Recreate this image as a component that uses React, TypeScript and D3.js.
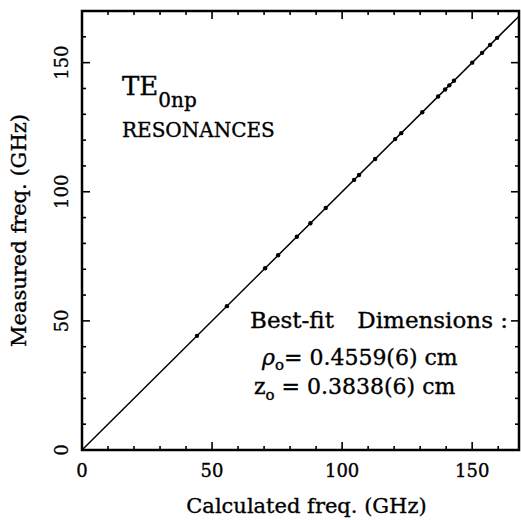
import React from "react";
import * as d3 from "d3";

const calculated = [44.2, 55.7, 70.4, 75.4, 82.6, 87.8, 93.7, 104.6, 106.5, 112.7, 120.4, 122.7, 130.8, 136.9, 139.6, 141.2, 143.0, 150.0, 153.8, 156.9, 159.6];
const measured = [44.2, 55.7, 70.4, 75.4, 82.6, 87.8, 93.7, 104.6, 106.5, 112.7, 120.4, 122.7, 130.8, 136.9, 139.6, 141.2, 143.0, 150.0, 153.8, 156.9, 159.6];
const majorTicks = [0, 50, 100, 150];
const xDomain = [0, 168];
const yDomain = [0, 170];

const W = 521;
const H = 520;
const L = 82, R = 519, T = 11, B = 450;
const FONT = "'DejaVu Serif', serif";

export default function App() {
  const x = d3.scaleLinear().domain(xDomain).range([L, R]);
  const y = d3.scaleLinear().domain(yDomain).range([B, T]);
  const xMinor = d3.range(10, xDomain[1], 10);
  const yMinor = d3.range(10, yDomain[1], 10);
  const tickLen = (v: number) => (v % 50 === 0 ? 8 : 4);
  const line = d3.line<[number, number]>().x((d) => x(d[0])).y((d) => y(d[1]));
  const diag: [number, number][] = [[0, 0], [168, 168]];
  const pts = calculated.map((c, i) => [c, measured[i]] as [number, number]);

  return (
    <svg width={W} height={H} style={{ position: "absolute", left: 0, top: 0, background: "#fff" }} fontFamily={FONT}>
      <rect x={0} y={0} width={W} height={H} fill="#fff" />
      {/* ticks */}
      {xMinor.map((v) => (
        <g key={"xt" + v} stroke="#000" strokeWidth={1.6}>
          <line x1={x(v)} x2={x(v)} y1={B} y2={B - tickLen(v)} />
          <line x1={x(v)} x2={x(v)} y1={T} y2={T + tickLen(v)} />
        </g>
      ))}
      {yMinor.map((v) => (
        <g key={"yt" + v} stroke="#000" strokeWidth={1.6}>
          <line x1={L} x2={L + tickLen(v)} y1={y(v)} y2={y(v)} />
          <line x1={R} x2={R - tickLen(v)} y1={y(v)} y2={y(v)} />
        </g>
      ))}
      {/* frame */}
      <rect x={L} y={T} width={R - L} height={B - T} fill="none" stroke="#000" strokeWidth={2.5} />
      {/* diagonal */}
      <path d={line(diag) || ""} fill="none" stroke="#000" strokeWidth={1.5} />
      {pts.map((p, i) => (
        <circle key={i} cx={x(p[0])} cy={y(p[1])} r={2.2} fill="#000" />
      ))}
      <g stroke="#000" strokeWidth={0.35}>
        {/* x tick labels */}
        {majorTicks.map((v) => (
          <text key={"xl" + v} x={x(v)} y={477} textAnchor="middle" fontSize={18}>
            {v}
          </text>
        ))}
        {/* y tick labels */}
        {majorTicks.map((v) => (
          <text key={"yl" + v} transform={`translate(68,${y(v)}) rotate(-90)`} textAnchor="middle" fontSize={18}>
            {v}
          </text>
        ))}
        <text x={(L + R) / 2 + 6} y={513} textAnchor="middle" fontSize={21}>
          Calculated freq. (GHz)
        </text>
        <text transform={`translate(26,${(T + B) / 2}) rotate(-90)`} textAnchor="middle" fontSize={21}>
          Measured freq. (GHz)
        </text>
        {/* annotations */}
        <text x={122} y={95} fontSize={26}>
          TE
          <tspan fontSize={20} dy={12}>0np</tspan>
        </text>
        <text x={122} y={137} fontSize={20}>
          RESONANCES
        </text>
        <text x={250} y={328} fontSize={23}>
          Best-fit
        </text>
        <text x={508} y={328} fontSize={23} textAnchor="end">
          Dimensions :
        </text>
        <text x={262} y={365} fontSize={22}>
          <tspan fontStyle="italic">ρ</tspan>
          <tspan fontSize={15} dy={5}>o</tspan>
          <tspan dy={-5}>= 0.4559(6) cm</tspan>
        </text>
        <text x={254} y={394} fontSize={22}>
          z
          <tspan fontSize={15} dy={6}>o</tspan>
          <tspan dy={-6}> = 0.3838(6) cm</tspan>
        </text>
      </g>
    </svg>
  );
}
